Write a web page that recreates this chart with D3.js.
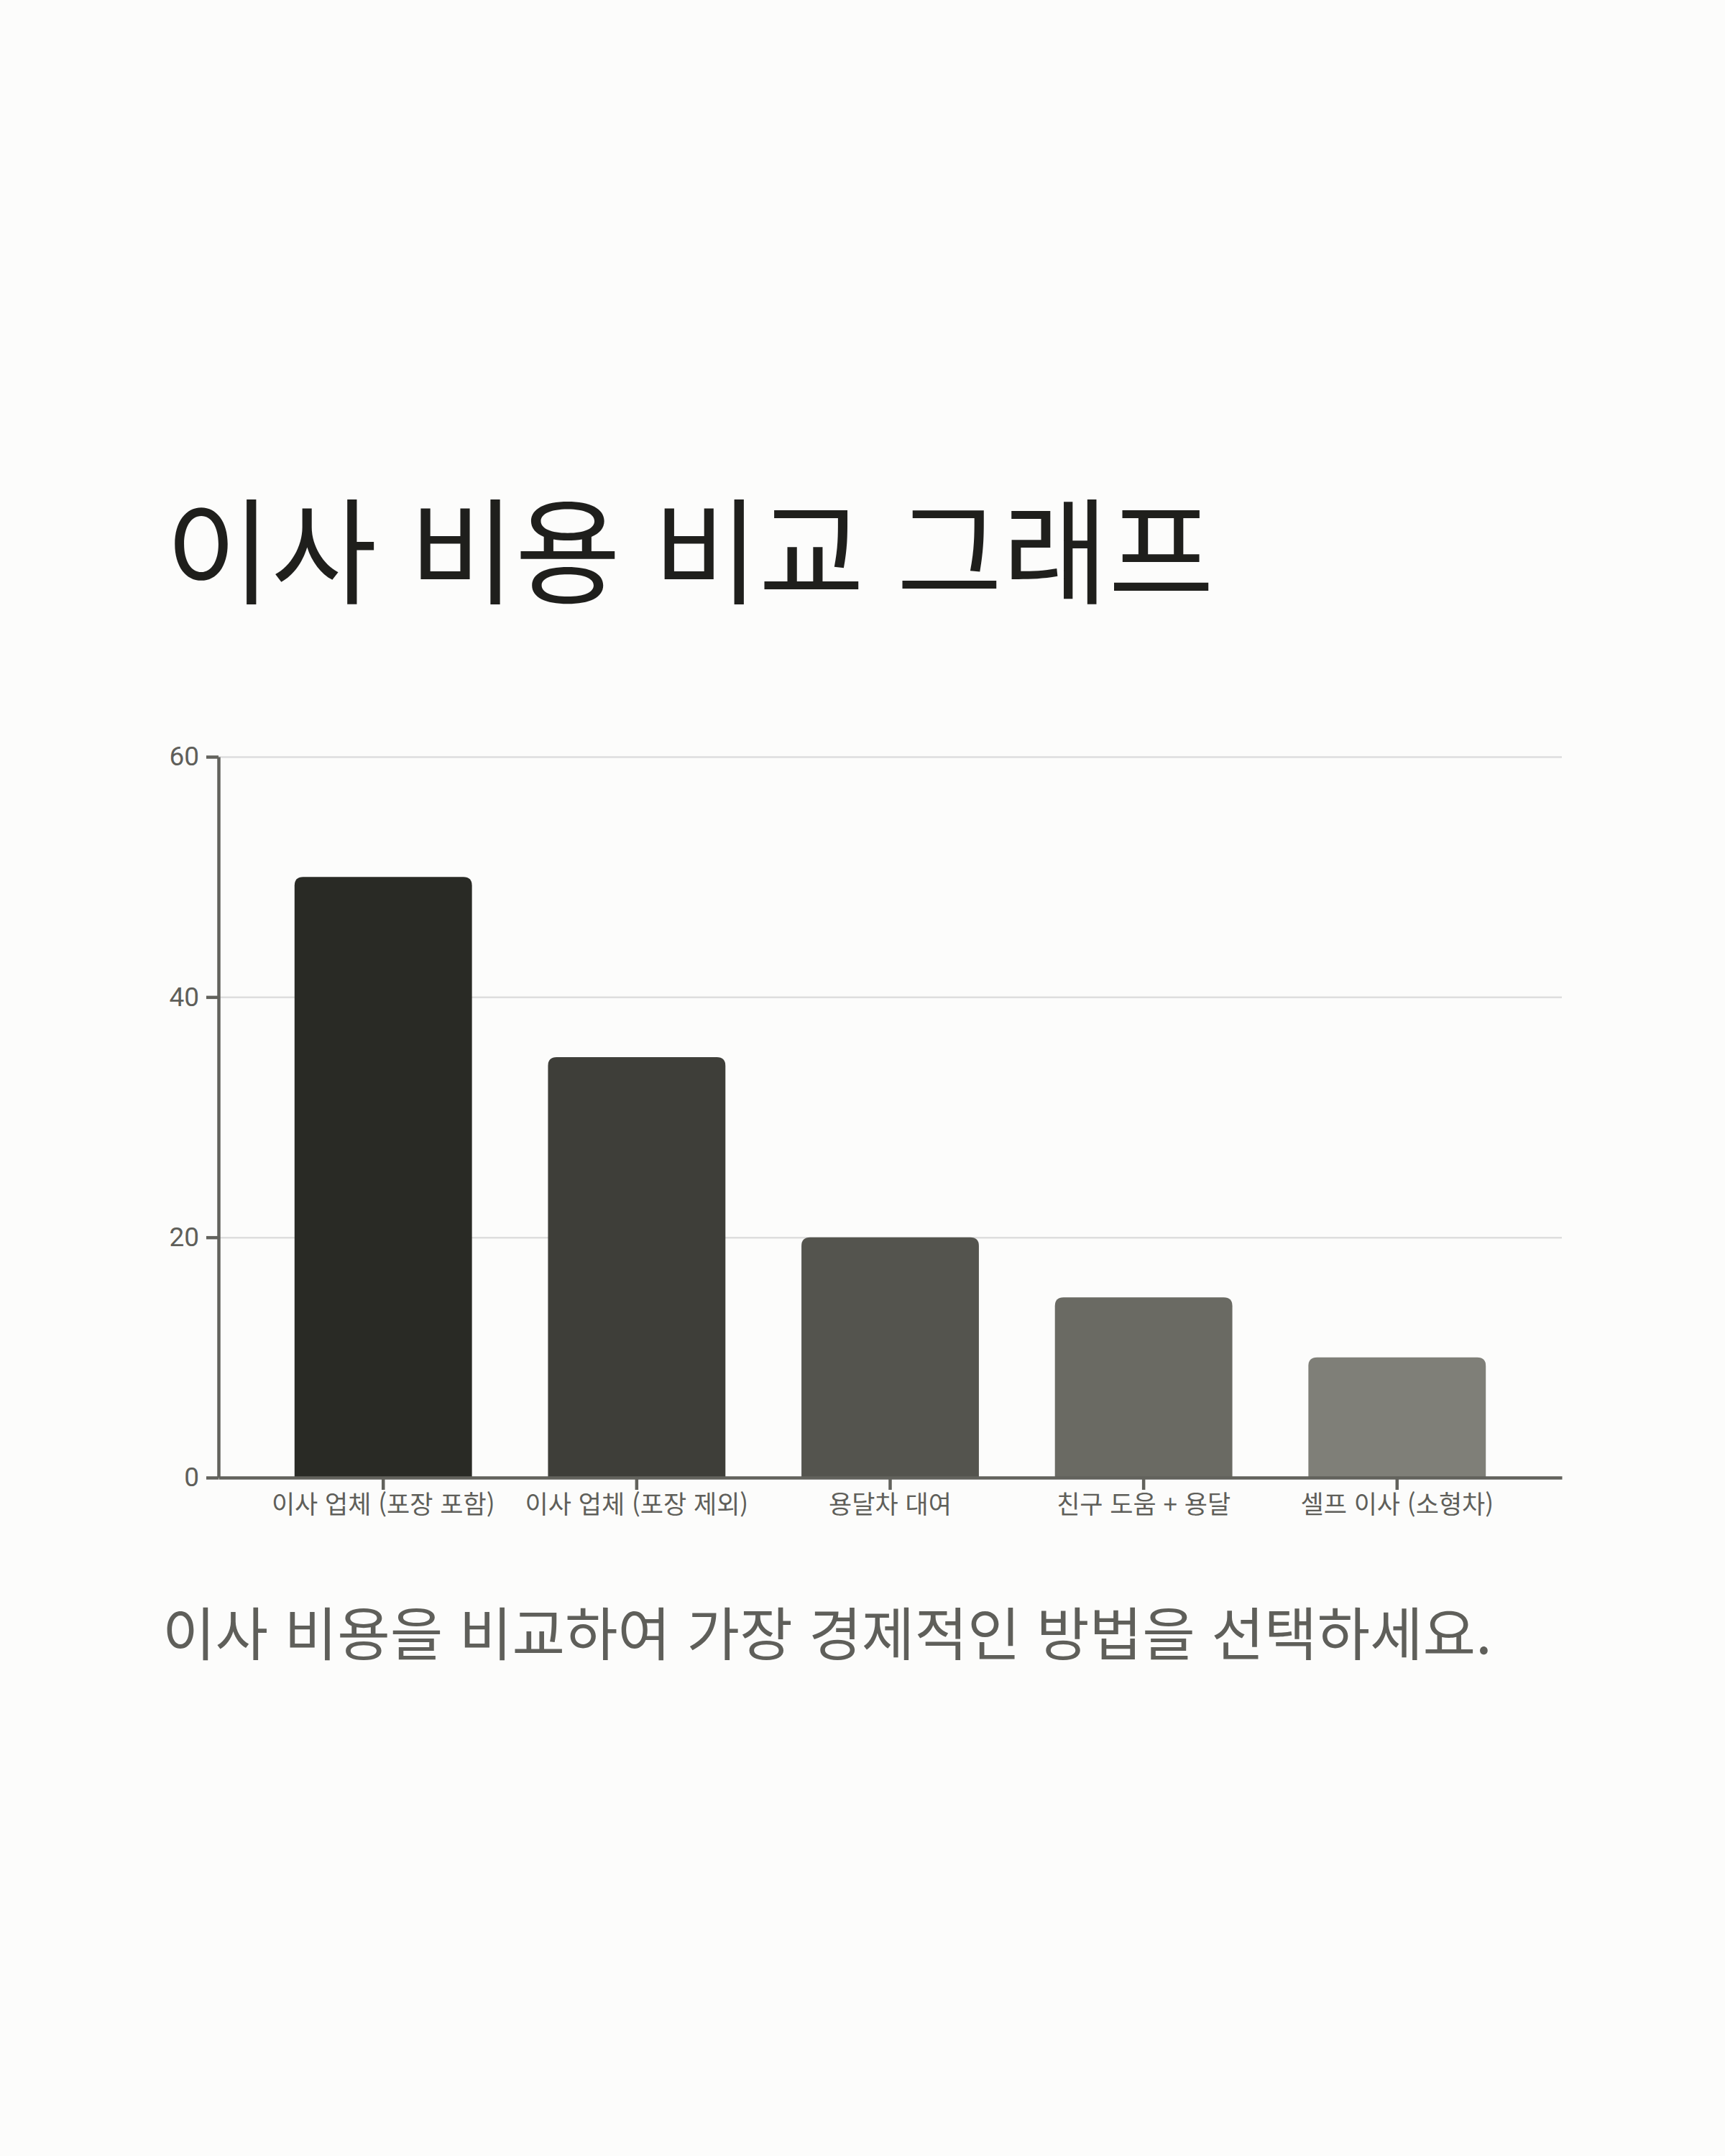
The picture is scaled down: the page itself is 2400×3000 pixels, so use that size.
<!DOCTYPE html>
<html lang="ko">
<head>
  <meta charset="UTF-8"/>
  <title>이사 비용 비교 그래프</title>
  <script src="https://d3js.org/d3.v7.min.js"></script>
  <style>
    body {
      margin: 0;
      background: #fcfcfb;
      font-family: 'Noto Sans CJK KR', 'Noto Sans', sans-serif;
    }
    svg { display: block; }
    .grid line { stroke: #dedede; stroke-width: 2.5; }
    .grid path { stroke-width: 0; }
    .axis path, .axis line { stroke: #62625c; stroke-width: 4.5; }
    .axis text { fill: #5f5f5a; }
    .y.axis text { font-family: Roboto, 'Noto Sans', sans-serif; font-size: 37px; }
    .x.axis text { font-family: 'Noto Sans CJK KR', sans-serif; font-size: 35px; }
    text.title { font-size: 160px; fill: #1f1f1c; }
    text.subtitle { font-size: 80px; fill: #5f5f5a; }
  </style>
</head>
<body>
  <svg width="2400" height="3000"></svg>
  <script>
    // moving cost data
    const categories = ['이사 업체 (포장 포함)', '이사 업체 (포장 제외)', '용달차 대여', '친구 도움 + 용달', '셀프 이사 (소형차)'];
    const costs = [50, 35, 20, 15, 10];
    const barColors = ['#292a25', '#3e3e39', '#54544e', '#6a6a63', '#7f7f78'];
    const yTicks = [0, 20, 40, 60];

    const svg = d3.select('svg');

    const plotLeft = 304, plotRight = 2173, plotTop = 1053, plotBottom = 2056;

    const xScale = d3.scaleBand()
      .domain(categories)
      .range([plotLeft, plotRight])
      .paddingInner(0.3)
      .paddingOuter(0.3);

    const yScale = d3.scaleLinear()
      .domain([0, 60])
      .range([plotBottom, plotTop]);

    svg.append('text')
      .attr('class', 'title')
      .attr('x', 230)
      .attr('y', 828)
      .text('이사 비용 비교 그래프');

    // grid lines
    svg.append('g')
      .attr('class', 'grid')
      .attr('transform', `translate(${plotLeft}, 0)`)
      .call(d3.axisLeft(yScale)
        .tickValues(yTicks.filter(t => t > 0))
        .tickSize(-(plotRight - plotLeft))
        .tickFormat('')
      );

    const r = 12;
    const data = categories.map((c, i) => ({ name: c, value: costs[i], color: barColors[i] }));

    svg.selectAll('.bar')
      .data(data)
      .enter()
      .append('path')
      .attr('class', 'bar')
      .attr('fill', d => d.color)
      .attr('d', d => {
        const x0 = xScale(d.name);
        const x1 = x0 + xScale.bandwidth();
        const y0 = yScale(d.value);
        const y1 = yScale(0);
        return `M${x0},${y1} L${x0},${y0 + r} Q${x0},${y0} ${x0 + r},${y0} ` +
          `L${x1 - r},${y0} Q${x1},${y0} ${x1},${y0 + r} L${x1},${y1} Z`;
      });

    svg.append('g')
      .attr('class', 'y axis')
      .attr('transform', `translate(${plotLeft}, 0)`)
      .call(d3.axisLeft(yScale).tickValues(yTicks).tickSize(17).tickPadding(10).tickSizeOuter(0));

    svg.append('g')
      .attr('class', 'x axis')
      .attr('transform', `translate(0, ${plotBottom})`)
      .call(d3.axisBottom(xScale).tickSize(17).tickPadding(8).tickSizeOuter(0));

    svg.append('text')
      .attr('class', 'subtitle')
      .attr('x', 226)
      .attr('y', 2303)
      .text('이사 비용을 비교하여 가장 경제적인 방법을 선택하세요.');
  </script>
</body>
</html>
